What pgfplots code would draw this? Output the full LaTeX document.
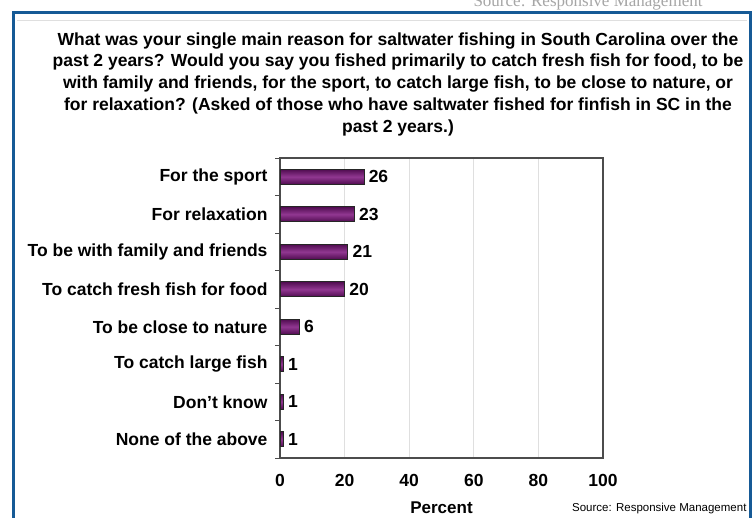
\documentclass[border=0pt]{standalone}
\usepackage{pgfplots}
\pgfplotsset{compat=1.18}
\usepackage{fontspec}
\setmainfont{Liberation Sans}
\newfontfamily\serifsrc{Liberation Serif}
\definecolor{bardark}{RGB}{80,12,80}
\definecolor{barlight}{RGB}{145,55,145}
\definecolor{frameblue}{RGB}{22,90,150}
\tikzset{mybar/.style={top color=bardark, bottom color=bardark, middle color=barlight, draw=black!85, line width=0.9pt}}
\begin{document}
\begin{tikzpicture}[x=1pt,y=1pt]
\useasboundingbox (0,0) rectangle (754,517);
\fill[white] (0,0) rectangle (754,517);
\begin{scope}
\clip (0,0) rectangle (754,517);
\node[anchor=base west, text=gray!70, font=\serifsrc\fontsize{17}{17}\selectfont] at (470,510) {Source: Responsive Management};
\end{scope}
\draw[frameblue, line width=3pt] (13.5,-5) -- (13.5,504.5) -- (750.5,504.5) -- (750.5,-5);
\draw[gray!25, line width=0.8pt] (17,497) -- (747,497);
\node[align=center, font=\bfseries\fontsize{17.5}{21.7}\selectfont, anchor=north] at (398,488)
{What was your single main reason for saltwater fishing in South Carolina over the\\
past 2 years? Would you say you fished primarily to catch fresh fish for food, to be\\
with family and friends, for the sport, to catch large fish, to be close to nature, or\\
for relaxation? (Asked of those who have saltwater fished for finfish in SC in the\\
past 2 years.)};
\begin{axis}[
  at={(280pt,59pt)}, anchor=south west,
  scale only axis, width=323pt, height=300pt,
  xmin=0, xmax=100, ymin=-0.5, ymax=7.5,
  y dir=reverse,
  xbar, bar width=15pt, bar shift=0pt,
  xtick={0,20,40,60,80,100},
  ytick={0,1,2,3,4,5,6,7},
  yticklabels={For the sport,For relaxation,To be with family and friends,To catch fresh fish for food,To be close to nature,To catch large fish,Don\char"27 t know,None of the above},
  minor ytick={-0.5,0.5,...,7.5},
  tick pos=left,
  major tick length=0pt,
  minor tick length=5pt,
  tick align=outside,
  minor tick style={draw=gray!60!black},
  xmajorgrids, grid style={gray!25, line width=0.8pt},
  axis line style={gray!60!black, line width=1.2pt},
  yticklabel style={font=\bfseries\fontsize{17.5}{17.5}\selectfont, text=black, xshift=-9pt},
  xticklabel style={font=\bfseries\fontsize{17.5}{17.5}\selectfont, text=black, yshift=-13pt},
  /pgf/number format/assume math mode=true,
  xlabel={Percent}, xlabel style={font=\bfseries\fontsize{17}{17}\selectfont, yshift=-8pt},
  nodes near coords,
  nodes near coords style={font=\bfseries\fontsize{17.5}{17.5}\selectfont, text=black, anchor=west, xshift=1pt},
  clip=false,
]
\addplot[mybar] coordinates {(26,0)};
\addplot[mybar] coordinates {(23,1)};
\addplot[mybar] coordinates {(21,2)};
\addplot[mybar] coordinates {(20,3)};
\addplot[mybar] coordinates {(6,4)};
\addplot[mybar] coordinates {(1,5)};
\addplot[mybar] coordinates {(1,6)};
\addplot[mybar] coordinates {(1,7)};
\end{axis}
\node[anchor=base east, font=\fontsize{11.5}{11.5}\selectfont] at (750,6) {Source: Responsive Management};
\end{tikzpicture}
\end{document}
